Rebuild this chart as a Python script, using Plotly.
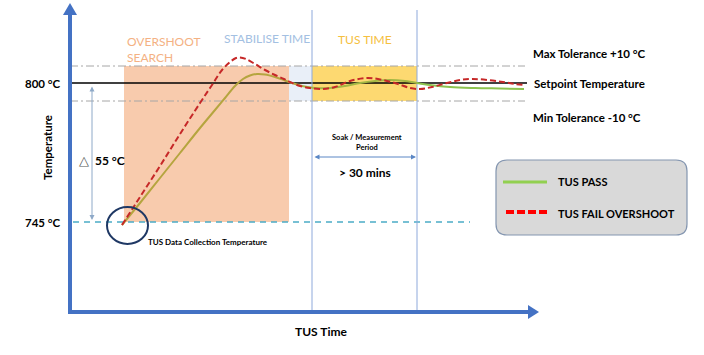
import plotly.graph_objects as go

# Schematic diagram units (x = time position, y = temperature position on the drawing, top = 0)
pass_x = [122, 140, 160, 180, 200, 215, 225, 235, 243, 250, 257, 265, 275, 285, 292, 302,
          315, 330, 345, 360, 375, 390, 405, 417, 430, 450, 475, 500, 524]
pass_y = [225, 203, 178, 153, 128, 110, 98, 86, 79, 75.5, 74, 74.5, 77, 80.5, 83, 86,
          88, 88, 86, 83, 81, 80, 81, 83, 85, 87, 88, 88.5, 89]
fail_x = [122, 140, 160, 180, 200, 212, 222, 230, 236, 240, 246, 255, 265, 275, 284, 290,
          300, 310, 322, 335, 350, 367, 383, 398, 410, 420, 432, 447, 460, 472, 488, 503, 515, 524]
fail_y = [225, 197, 166, 134, 103, 85, 70, 62, 58, 57.5, 59, 64, 70, 75, 79, 82,
          86, 88, 89, 87, 81, 78, 80, 84, 88, 89, 87, 83, 80, 79, 80, 82, 84, 85]

levels = {"max": 66, "set": 83, "min": 101, "start": 222}
tick_labels = ["800 °C", "745 °C"]
series_names = ["TUS PASS", "TUS FAIL OVERSHOOT"]

FONT = "Lato"
fig = go.Figure()

def seg(xs, ys, lo, hi):
    pts = [(a, b) for a, b in zip(xs, ys) if lo <= a <= hi]
    return [p[0] for p in pts], [p[1] for p in pts]

for lo, hi, col in [(0, 302, "#B5A53F"), (302, 417, "#A3B743"), (417, 999, "#8DC34F")]:
    sx, sy = seg(pass_x, pass_y, lo, hi)
    fig.add_trace(go.Scatter(x=sx, y=sy, mode="lines", line=dict(color=col, width=2, shape="spline"),
                             showlegend=False, hoverinfo="skip"))
fig.add_trace(go.Scatter(x=fail_x, y=fail_y, mode="lines",
                         line=dict(color="#C62828", width=2, dash="6px,3px", shape="spline"),
                         showlegend=False, hoverinfo="skip"))

# legend samples
fig.add_trace(go.Scatter(x=[503, 547], y=[182, 182], mode="lines", line=dict(color="#92D050", width=3),
                         showlegend=False, hoverinfo="skip"))
fig.add_trace(go.Scatter(x=[506, 548], y=[212, 212], mode="lines",
                         line=dict(color="#FF0000", width=4, dash="8px,3px"),
                         showlegend=False, hoverinfo="skip"))

shapes = []
def rect(x0, x1, y0, y1, color):
    shapes.append(dict(type="rect", x0=x0, x1=x1, y0=y0, y1=y1, fillcolor=color, line=dict(width=0), layer="below"))

rect(124, 289, levels["max"], levels["start"], "#F8CBAD")
rect(289, 312, levels["max"], levels["min"], "#E9EFF8")
rect(312, 417, levels["max"], levels["min"], "#FDD971")

def line(x0, y0, x1, y1, color, width=1, dash="solid", layer="below"):
    shapes.append(dict(type="line", x0=x0, y0=y0, x1=x1, y1=y1, line=dict(color=color, width=width, dash=dash), layer=layer))

line(70, levels["max"], 525, levels["max"], "#A6A6A6", 1, "8px,3px,2px,3px")
line(70, levels["min"], 525, levels["min"], "#A6A6A6", 1, "8px,3px,2px,3px")
line(71, levels["set"], 527, levels["set"], "#000000", 1.3)
line(73, levels["start"], 470, levels["start"], "#4BACC6", 1.5, "6px,5px")
line(312, 10, 312, 312, "#8EA9DB", 1)
line(417, 10, 417, 312, "#8EA9DB", 1)

# axes
line(70, 312, 70, 13, "#4472C4", 4, layer="above")
line(68, 312, 530, 312, "#4472C4", 4, layer="above")
shapes.append(dict(type="path", path="M 63,15 L 77,15 L 70,3 Z", fillcolor="#4472C4", line=dict(width=0), layer="above"))
shapes.append(dict(type="path", path="M 528,305 L 528,319 L 539,312 Z", fillcolor="#4472C4", line=dict(width=0), layer="above"))

# circle
shapes.append(dict(type="circle", x0=107, x1=148, y0=207, y1=244, line=dict(color="#1F3864", width=2), layer="above"))

# legend box (rounded)
x0, x1, y0, y1, r = 496, 687, 160, 235, 11
path = (f"M {x0+r},{y0} L {x1-r},{y0} Q {x1},{y0} {x1},{y0+r} L {x1},{y1-r} Q {x1},{y1} {x1-r},{y1} "
        f"L {x0+r},{y1} Q {x0},{y1} {x0},{y1-r} L {x0},{y0+r} Q {x0},{y0} {x0+r},{y0} Z")
shapes.append(dict(type="path", path=path, fillcolor="#D9D9D9", line=dict(color="#8496B0", width=1.2), layer="below"))

ann = []
def text(x, y, s, size=12, color="#000000", xanchor="left", bold=True, angle=0):
    ann.append(dict(x=x, y=y, text=f"<b>{s}</b>" if bold else s, showarrow=False, xanchor=xanchor, yanchor="middle",
                    font=dict(family=FONT, size=size, color=color), textangle=angle))

text(63, levels["set"], tick_labels[0], 11.5, xanchor="right")
text(63, levels["start"], tick_labels[1], 11.5, xanchor="right")
text(47, 148, "Temperature", 11.5, xanchor="center", angle=-90)
text(321, 331, "TUS Time", 12, xanchor="center")
text(125, 41, "OVERSHOOT", 12, "#F4B183", bold=False)
text(125, 57, "SEARCH", 12, "#F4B183", bold=False)
text(222, 38, "STABILISE TIME", 12, "#A3C0E2", bold=False)
text(365, 39, "TUS TIME", 12, "#F5C040", xanchor="center", bold=False)
text(531, 53, "Max Tolerance +10 °C", 11.5)
text(532, 83, "Setpoint Temperature", 11.5)
text(531, 117, "Min Tolerance -10 °C", 11.5)
text(367, 137, "Soak / Measurement", 7.5, xanchor="center")
text(367, 147, "Period", 7.5, xanchor="center")
text(365, 172, "&gt; 30 mins", 12, xanchor="center")
text(146, 242, "TUS Data Collection Temperature", 8)
text(77, 160, "△", 13, "#555555", bold=False)
text(93, 160, "55 °C", 12)
text(556, 181, series_names[0], 11)
text(556, 213, series_names[1], 11)

# arrows
ann.append(dict(x=92, y=220, ax=92, ay=85, xref="x", yref="y", axref="x", ayref="y", text="", showarrow=True,
                arrowhead=2, arrowside="end+start", arrowsize=1, arrowwidth=1, arrowcolor="#8EA9C8"))
ann.append(dict(x=416, y=157, ax=313, ay=157, xref="x", yref="y", axref="x", ayref="y", text="", showarrow=True,
                arrowhead=2, arrowside="end+start", arrowsize=1, arrowwidth=1, arrowcolor="#5B87C5"))

fig.update_layout(
    width=704, height=355, margin=dict(l=0, r=0, t=0, b=0),
    paper_bgcolor="white", plot_bgcolor="white",
    xaxis=dict(range=[0, 704], visible=False, fixedrange=True),
    yaxis=dict(range=[355, 0], visible=False, fixedrange=True),
    shapes=shapes, annotations=ann, showlegend=False,
)
fig.write_html("out.html", config={"displayModeBar": False},
               post_script="document.body.style.margin='0px';document.body.style.overflow='hidden';")
